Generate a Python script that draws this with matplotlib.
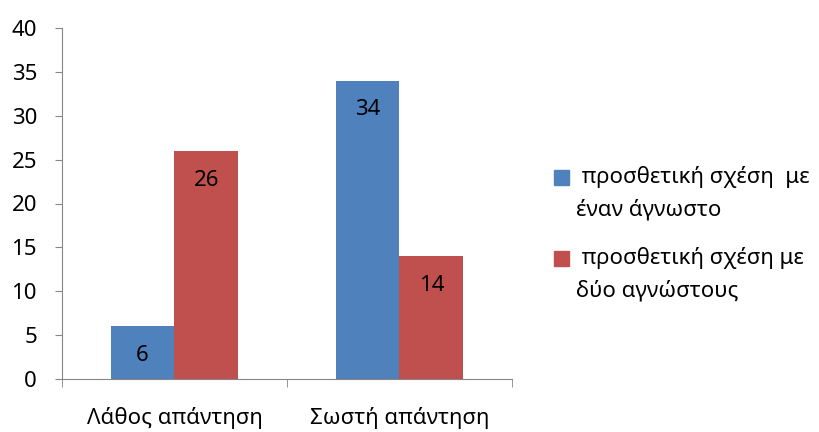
import matplotlib
matplotlib.use("Agg")
import matplotlib.pyplot as plt
import numpy as np
from matplotlib.patches import Rectangle

# Answers grouped by outcome, one series per problem type
categories = ["Λάθος απάντηση", "Σωστή απάντηση"]
series_lines = [
    [" προσθετική σχέση  με", "έναν άγνωστο"],
    [" προσθετική σχέση με", "δύο αγνώστους"],
]
one_unknown = [6, 34]
two_unknowns = [26, 14]
y_ticks = [0, 5, 10, 15, 20, 25, 30, 35, 40]

BLUE = "#4F81BD"
RED = "#C0504D"
AXIS_GRAY = "#868686"
FONT_SIZE = 16

plt.rcParams["font.family"] = ["Noto Sans", "DejaVu Sans"]

W, H = 820, 432
fig = plt.figure(figsize=(W / 100, H / 100), dpi=100)
ax = fig.add_axes([62 / W, 1 - 379 / H, 450 / W, 351 / H])

x = np.arange(len(categories))
width = 0.284
bars_a = ax.bar(x - width / 2, one_unknown, width, color=BLUE)
bars_b = ax.bar(x + width / 2, two_unknowns, width, color=RED)

for bars, values in ((bars_a, one_unknown), (bars_b, two_unknowns)):
    for bar, value in zip(bars, values):
        ax.annotate(
            f"{value}",
            xy=(bar.get_x() + bar.get_width() / 2, value),
            xytext=(0, -21),
            textcoords="offset points",
            ha="center",
            va="center",
            fontsize=FONT_SIZE,
            color="black",
        )

ax.set_xlim(-0.5, len(categories) - 0.5)
ax.set_ylim(0, 40)
ax.set_yticks(y_ticks)
ax.tick_params(axis="y", labelsize=FONT_SIZE, length=5, color=AXIS_GRAY, pad=13)

# category labels centred, tick marks on category boundaries
ax.set_xticks(x)
ax.set_xticklabels(categories, fontsize=FONT_SIZE)
ax.tick_params(axis="x", length=0, pad=20)
ax.set_xticks(np.arange(-0.5, len(categories)), minor=True)
ax.tick_params(axis="x", which="minor", length=6, color=AXIS_GRAY)

for side in ("top", "right"):
    ax.spines[side].set_visible(False)
for side in ("left", "bottom"):
    ax.spines[side].set_color(AXIS_GRAY)

# legend: square swatch beside the first line of each wrapped label
legend_colors = [BLUE, RED]
entry_top = [177, 258]
line_step = 33
for color, lines, y0 in zip(legend_colors, series_lines, entry_top):
    fig.patches.append(
        Rectangle((554 / W, 1 - (y0 + 8) / H), 15 / W, 15 / H,
                  transform=fig.transFigure, color=color)
    )
    for i, line in enumerate(lines):
        fig.text(576 / W, 1 - (y0 + i * line_step) / H, line,
                 fontsize=FONT_SIZE, ha="left", va="center")

fig.savefig("out.png", dpi=100)
